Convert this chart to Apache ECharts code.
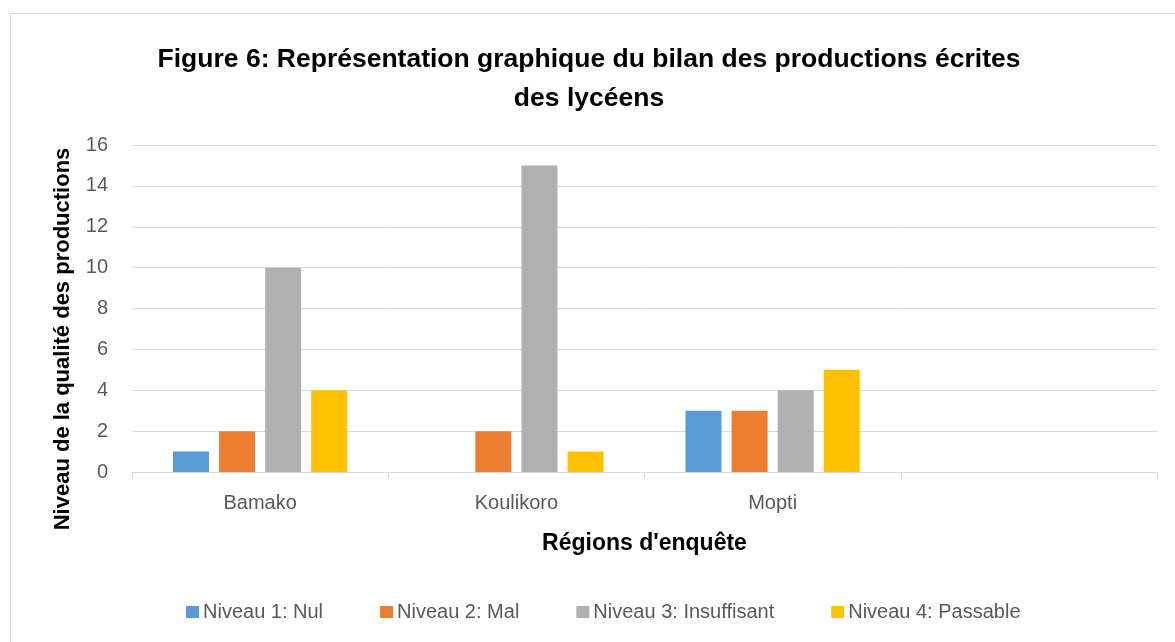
<!DOCTYPE html>
<html>
<head>
<meta charset="utf-8">
<script src="https://cdn.jsdelivr.net/npm/echarts@6/dist/echarts.min.js"></script>
<style>
  html, body { margin: 0; padding: 0; background: #fff; }
  #main { width: 1175px; height: 642px; }
</style>
</head>
<body>
<div id="main"></div>
<script>
// data
const regions = ['Bamako', 'Koulikoro', 'Mopti', ''];
const nul = [1, 0, 3, null];
const mal = [2, 2, 3, null];
const insuffisant = [10, 15, 4, null];
const passable = [4, 1, 5, null];
const yTicks = { min: 0, max: 16, step: 2 };

const chart = echarts.init(document.getElementById('main'));
const font = 'Liberation Sans';

function bar(name, data, color) {
  return {
    name: name,
    type: 'bar',
    data: data,
    barWidth: 36,
    barGap: '28%',
    itemStyle: { color: color }
  };
}

chart.setOption({
  backgroundColor: '#fff',
  animation: false,
  textStyle: { fontFamily: font },
  graphic: [{
    type: 'rect',
    shape: { x: 10.5, y: 13.5, width: 1180, height: 700 },
    style: { fill: 'none', stroke: '#d9d9d9', lineWidth: 1 },
    silent: true
  }, {
    // y axis title, centred lower than the plot like the original
    type: 'text',
    x: 63,
    y: 339,
    rotation: Math.PI / 2,
    style: {
      text: 'Niveau de la qualité des productions',
      font: 'bold 22px "Liberation Sans"',
      fill: '#000',
      textAlign: 'center',
      textVerticalAlign: 'middle'
    },
    silent: true
  }],
  title: {
    text: 'Figure 6: Représentation graphique du bilan des productions écrites\ndes lycéens',
    left: 584,
    textAlign: 'center',
    top: 35,
    textStyle: { fontSize: 26.5, fontWeight: 'bold', color: '#000', lineHeight: 39, fontFamily: font }
  },
  legend: {
    top: 597,
    left: 181,
    itemWidth: 13,
    itemHeight: 12,
    itemGap: 57,
    icon: 'rect',
    textStyle: { fontSize: 20, color: '#595959', fontFamily: font, padding: [0, 0, 0, -1] },
    data: ['Niveau 1: Nul', 'Niveau 2: Mal', 'Niveau 3: Insuffisant', 'Niveau 4: Passable']
  },
  grid: { left: 132, right: 18, top: 145, bottom: 170 },
  xAxis: {
    type: 'category',
    data: regions,
    name: "Régions d'enquête",
    nameLocation: 'middle',
    nameGap: 60,
    nameTextStyle: { fontSize: 23, fontWeight: 'bold', color: '#000', fontFamily: font },
    axisLine: { lineStyle: { color: '#d9d9d9', width: 1 } },
    axisTick: { show: true, length: 7, lineStyle: { color: '#d9d9d9' } },
    axisLabel: { fontSize: 20, color: '#595959', margin: 21 }
  },
  yAxis: {
    type: 'value',
    min: yTicks.min,
    max: yTicks.max,
    interval: yTicks.step,
    axisLine: { show: false },
    axisTick: { show: false },
    axisLabel: { fontSize: 20, color: '#595959', margin: 24 },
    splitLine: { lineStyle: { color: '#d9d9d9', width: 1 } }
  },
  series: [
    bar('Niveau 1: Nul', nul, '#5b9bd5'),
    bar('Niveau 2: Mal', mal, '#ed7d31'),
    bar('Niveau 3: Insuffisant', insuffisant, '#b0b0b0'),
    bar('Niveau 4: Passable', passable, '#ffc000')
  ]
});
</script>
</body>
</html>
